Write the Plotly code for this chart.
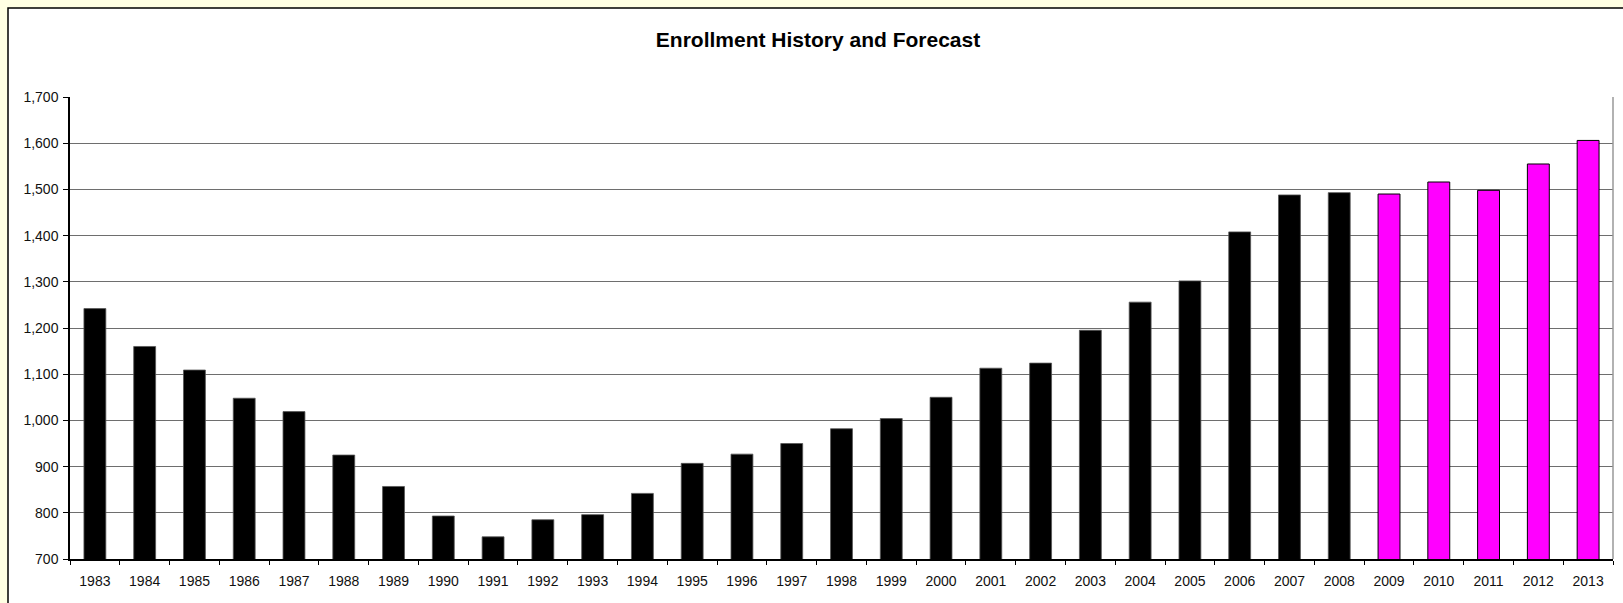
import plotly.graph_objects as go

# Enrollment by year: actual counts through 2008, projected counts from 2009
history_years = [str(y) for y in range(1983, 2009)]
history_enrollment = [1242, 1160, 1109, 1048, 1019, 925, 857, 793, 748, 785,
                      796, 842, 907, 927, 950, 982, 1004, 1050, 1113, 1124,
                      1195, 1256, 1302, 1408, 1488, 1493]
forecast_years = [str(y) for y in range(2009, 2014)]
forecast_enrollment = [1490, 1516, 1498, 1555, 1606]

y_ticks = list(range(700, 1701, 100))

W, H = 1623, 603
ML, MR, MT, MB = 70, 10, 97, 44
pw, ph = W - ML - MR, H - MT - MB


def px_x(x):
    return (x - ML) / pw


def px_y(y):
    return (H - MB - y) / ph


font_family = "Liberation Sans, Arial, sans-serif"

fig = go.Figure()
fig.add_trace(go.Bar(
    x=history_years, y=history_enrollment, name="History",
    marker=dict(color="#000000", line=dict(color="#555555", width=0.8)),
))
fig.add_trace(go.Bar(
    x=forecast_years, y=forecast_enrollment, name="Forecast",
    marker=dict(color="#FF00FF", line=dict(color="#000000", width=1)),
))

fig.update_layout(
    width=W, height=H,
    margin=dict(l=ML, r=MR, t=MT, b=MB),
    paper_bgcolor="#FFFFE3",
    plot_bgcolor="rgba(0,0,0,0)",
    barmode="overlay",
    bargap=0.56,
    showlegend=False,
    font=dict(family=font_family, size=14, color="#111111"),
    title=dict(
        text="<b>Enrollment History and Forecast</b>",
        x=818 / W, xanchor="center",
        y=1 - 40 / H, yanchor="middle",
        font=dict(family=font_family, size=21, color="#000000"),
    ),
    shapes=[
        # white chart area with a black frame
        dict(type="rect", xref="paper", yref="paper", layer="below",
             x0=px_x(8), x1=px_x(W + 20), y0=px_y(H + 20), y1=px_y(8),
             fillcolor="#FFFFFF", line=dict(color="#000000", width=1.5)),
        # right edge of the plot area
        dict(type="line", xref="paper", yref="paper",
             x0=1, x1=1, y0=0, y1=1,
             line=dict(color="#999999", width=1.5)),
    ],
)

fig.update_xaxes(
    type="category",
    categoryorder="array",
    categoryarray=history_years + forecast_years,
    showline=True, linecolor="#000000", linewidth=1.5,
    ticks="outside", tickson="boundaries", ticklen=4, tickcolor="#000000",
    ticklabelstandoff=8,
    tickfont=dict(size=14, color="#111111"),
    showgrid=False,
)
fig.update_yaxes(
    range=[700, 1700],
    tickvals=y_ticks, tickformat=",d",
    showline=True, linecolor="#000000", linewidth=1.5,
    ticks="outside", ticklen=5, tickcolor="#000000",
    ticklabelstandoff=2,
    tickfont=dict(size=14, color="#111111"),
    showgrid=True, gridcolor="#6E6E6E", gridwidth=1,
    zeroline=False,
)

fig.write_html("out.html")
